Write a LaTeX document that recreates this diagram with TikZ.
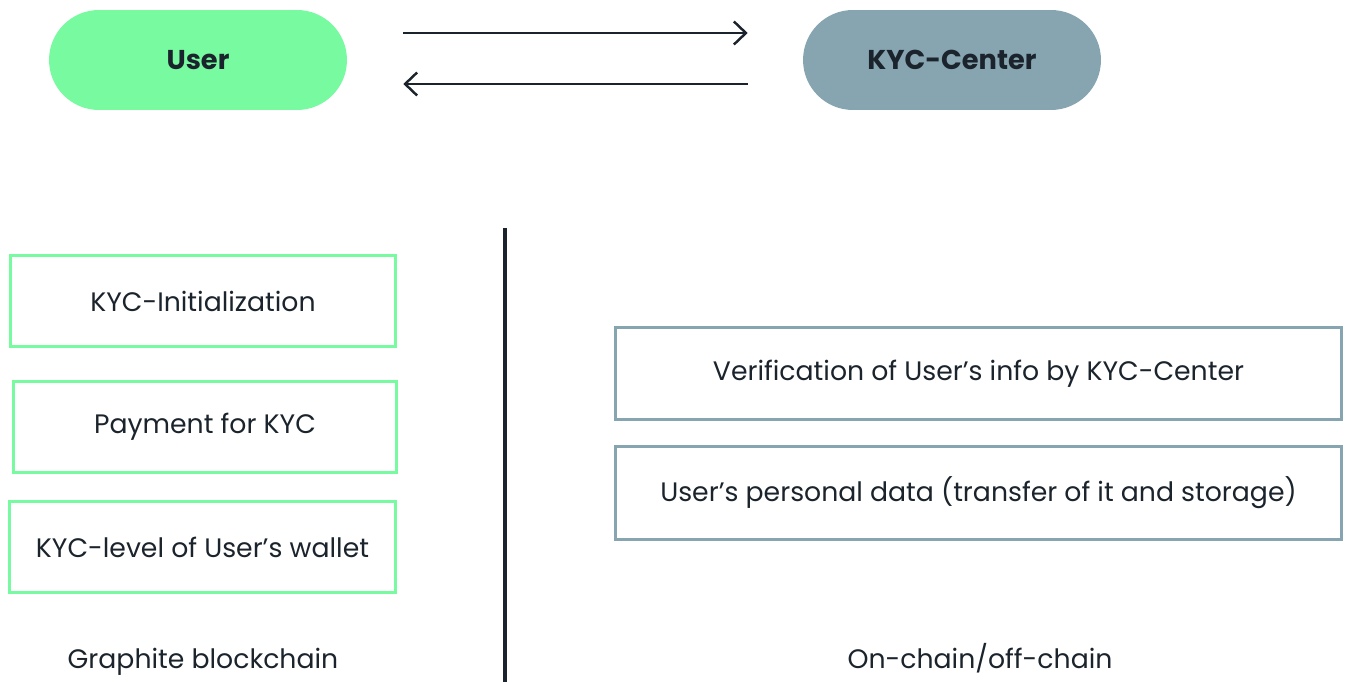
\documentclass[tikz,border=0pt]{standalone}
\usepackage{fontspec}
\setmainfont{Poppins}
\usetikzlibrary{arrows.meta,positioning}

\definecolor{verde}{HTML}{77FAA0}
\definecolor{grigio}{HTML}{87A5B0}
\definecolor{scuro}{HTML}{1B242C}

\tikzset{
  pill/.style={rectangle, rounded corners=1cm, minimum width=5.96cm, minimum height=2cm,
    inner sep=0pt, text=scuro, font=\fontsize{15.5}{18}\selectfont\bfseries},
  boxv/.style={draw=verde, line width=1.7pt, minimum height=1.84cm, inner sep=0pt,
    text=scuro, font=\fontsize{15.2}{18}\selectfont},
  boxg/.style={draw=grigio, line width=1.7pt, minimum width=14.54cm, minimum height=1.86cm,
    inner sep=0pt, text=scuro, font=\fontsize{15.2}{18}\selectfont},
  etichetta/.style={anchor=base, inner sep=0pt, text=scuro, font=\fontsize{15.2}{18}\selectfont},
  freccia/.style={-{Straight Barb[length=2.4mm, width=4.6mm]}, line width=1.4pt, draw=scuro}
}

\begin{document}
\begin{tikzpicture}[x=0.02cm, y=-0.02cm]
    \useasboundingbox (0,0) rectangle (1350,682);

    % Attori
    \node[pill, fill=verde] (user) at (198,60) {User};
    \node[pill, fill=grigio] (kyc) at (952,60) {KYC-Center};

    % Scambio tra User e KYC-Center
    \draw[freccia, shorten <=1.12cm, shorten >=1.1cm] ([yshift=0.54cm]user.east) -- ([yshift=0.54cm]kyc.west);
    \draw[freccia, shorten <=1.1cm, shorten >=1.12cm] ([yshift=-0.48cm]kyc.west) -- ([yshift=-0.48cm]user.east);

    % Divisore
    \draw[scuro, line width=2.8pt] (505,228) -- (505,682);

    % Graphite blockchain
    \node[boxv, minimum width=7.72cm] (init) at (203,301) {KYC-Initialization};
    \node[boxv, minimum width=7.68cm] (pay) at (205,427) {Payment for KYC};
    \node[boxv, minimum width=7.74cm] (level) at (202.5,547) {KYC-level of User’s wallet};
    \node[etichetta] (graphite) at (203,668) {Graphite blockchain};

    % On-chain/off-chain
    \node[boxg] (verif) at (978.5,373.5) {Verification of User’s info by KYC-Center};
    \node[boxg] (dati) at (978.5,493) {User’s personal data (transfer of it and storage)};
    \node[etichetta] (chain) at (980,668) {On-chain/off-chain};
\end{tikzpicture}
\end{document}
